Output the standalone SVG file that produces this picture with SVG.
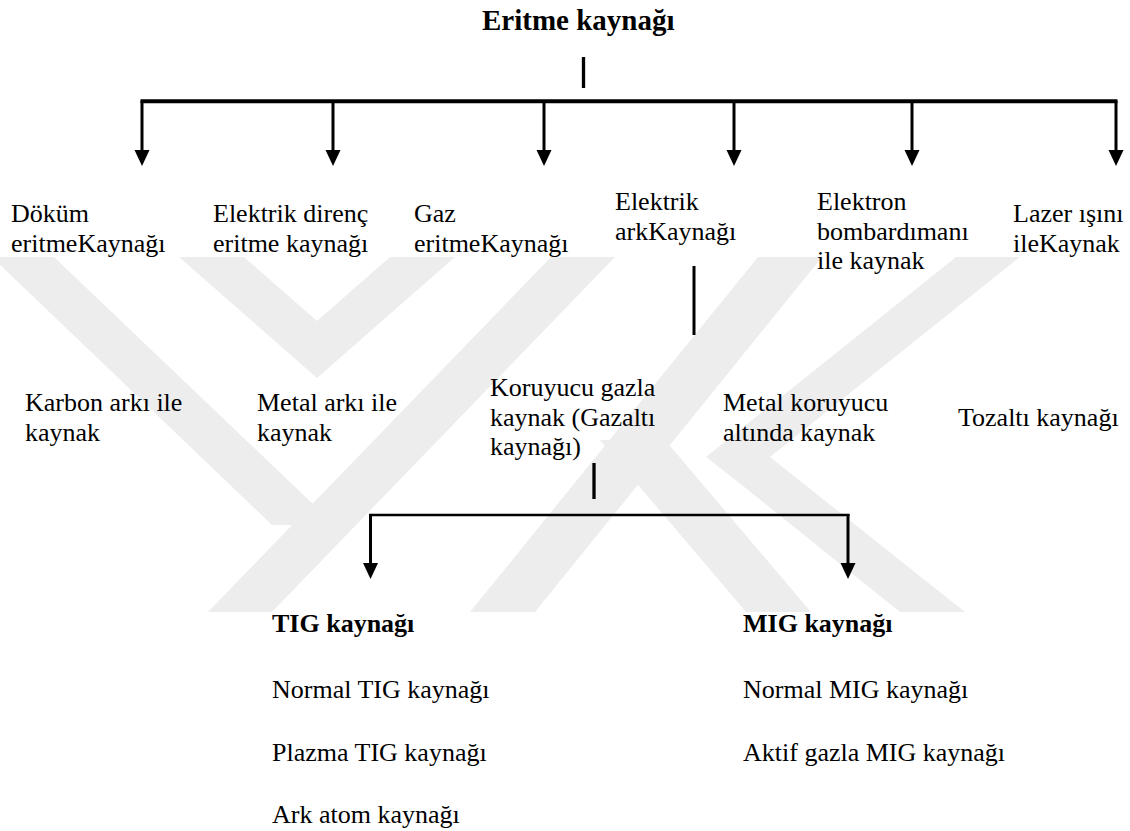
<svg xmlns="http://www.w3.org/2000/svg" width="1130" height="831" viewBox="0 0 1130 831">
<style>
  text{font-family:"Liberation Serif","Times New Roman",serif;font-size:26px;fill:#000}
  .b{font-weight:bold}
  .title{font-size:29px}
  .wm{fill:#ededed}
  .bar{stroke:#000;fill:none}
</style>
<defs>
  <marker id="ah" viewBox="0 -8 16 16" refX="0" refY="0" markerUnits="userSpaceOnUse" markerWidth="16" markerHeight="16" orient="auto">
    <path d="M0,-7.5 L16,0 L0,7.5 Z" fill="#000"/>
  </marker>
  <clipPath id="wmclip"><rect x="0" y="257" width="1130" height="355"/></clipPath>
</defs>
<rect width="1130" height="831" fill="#fff"/>
<g id="watermark" clip-path="url(#wmclip)">
  <polygon class="wm" points="179,257 244,257 317,321 390,257 455,257 317,378"/>
  <polygon class="wm" points="551,257 615,257 272,612 208,612"/>
  <polygon class="wm" points="-8,257 54,257 335,525 272,525"/>
  <polygon class="wm" points="758,257 822,257 535,612 470,612"/>
  <polygon class="wm" points="600,440 665,440 811,612 746,612"/>
  <polygon class="wm" points="956,257 1020,257 770,457 965,612 900,612 738,482 706,457"/>
</g>
<g id="connectors">
  <line class="bar" x1="583.5" y1="57" x2="583.5" y2="88" stroke-width="3.3"/>
  <line class="bar" x1="140.5" y1="101.3" x2="1117.5" y2="101.3" stroke-width="4"/>
  <line class="bar" x1="142" y1="101" x2="142" y2="150" stroke-width="3" marker-end="url(#ah)"/>
  <line class="bar" x1="333" y1="101" x2="333" y2="150" stroke-width="3" marker-end="url(#ah)"/>
  <line class="bar" x1="544" y1="101" x2="544" y2="150" stroke-width="3" marker-end="url(#ah)"/>
  <line class="bar" x1="734" y1="101" x2="734" y2="150" stroke-width="3" marker-end="url(#ah)"/>
  <line class="bar" x1="912" y1="101" x2="912" y2="150" stroke-width="3" marker-end="url(#ah)"/>
  <line class="bar" x1="1116" y1="101" x2="1116" y2="150" stroke-width="3" marker-end="url(#ah)"/>
  <line class="bar" x1="694" y1="266" x2="694" y2="335" stroke-width="3"/>
  <line class="bar" x1="594" y1="463" x2="594" y2="499" stroke-width="3.3"/>
  <line class="bar" x1="369" y1="515" x2="849.5" y2="515" stroke-width="2.6"/>
  <line class="bar" x1="370.5" y1="514" x2="370.5" y2="563" stroke-width="3" marker-end="url(#ah)"/>
  <line class="bar" x1="848" y1="514" x2="848" y2="563" stroke-width="3" marker-end="url(#ah)"/>
</g>
<g id="n-root"><text class="b title" x="482" y="30">Eritme kaynağı</text></g>
<g id="n-dokum"><text x="11" y="222">Döküm<tspan x="11" dy="29.5">eritmeKaynağı</tspan></text></g>
<g id="n-direnc"><text x="213" y="222">Elektrik direnç<tspan x="213" dy="29.5">eritme kaynağı</tspan></text></g>
<g id="n-gaz"><text x="414" y="222">Gaz<tspan x="414" dy="29.5">eritmeKaynağı</tspan></text></g>
<g id="n-ark"><text x="615" y="210">Elektrik<tspan x="615" dy="29.5">arkKaynağı</tspan></text></g>
<g id="n-elektron"><text x="817" y="210">Elektron<tspan x="817" dy="29.5">bombardımanı</tspan><tspan x="817" dy="29.5">ile kaynak</tspan></text></g>
<g id="n-lazer"><text x="1013" y="222">Lazer ışını<tspan x="1013" dy="29.5">ileKaynak</tspan></text></g>
<g id="n-karbon"><text x="25" y="411">Karbon arkı ile<tspan x="25" dy="29.5">kaynak</tspan></text></g>
<g id="n-metalark"><text x="257" y="411">Metal arkı ile<tspan x="257" dy="29.5">kaynak</tspan></text></g>
<g id="n-koruyucu"><text x="490" y="396">Koruyucu gazla<tspan x="490" dy="29.5">kaynak (Gazaltı</tspan><tspan x="490" dy="29.5">kaynağı)</tspan></text></g>
<g id="n-metalkor"><text x="723" y="411">Metal koruyucu<tspan x="723" dy="29.5">altında kaynak</tspan></text></g>
<g id="n-tozalti"><text x="958" y="426">Tozaltı kaynağı</text></g>
<g id="n-tig">
  <text class="b" x="272" y="632">TIG kaynağı</text>
  <text x="272" y="698">Normal TIG kaynağı</text>
  <text x="272" y="761">Plazma TIG kaynağı</text>
  <text x="272" y="823">Ark atom kaynağı</text>
</g>
<g id="n-mig">
  <text class="b" x="743" y="632">MIG kaynağı</text>
  <text x="743" y="698">Normal MIG kaynağı</text>
  <text x="743" y="761">Aktif gazla MIG kaynağı</text>
</g>
</svg>
